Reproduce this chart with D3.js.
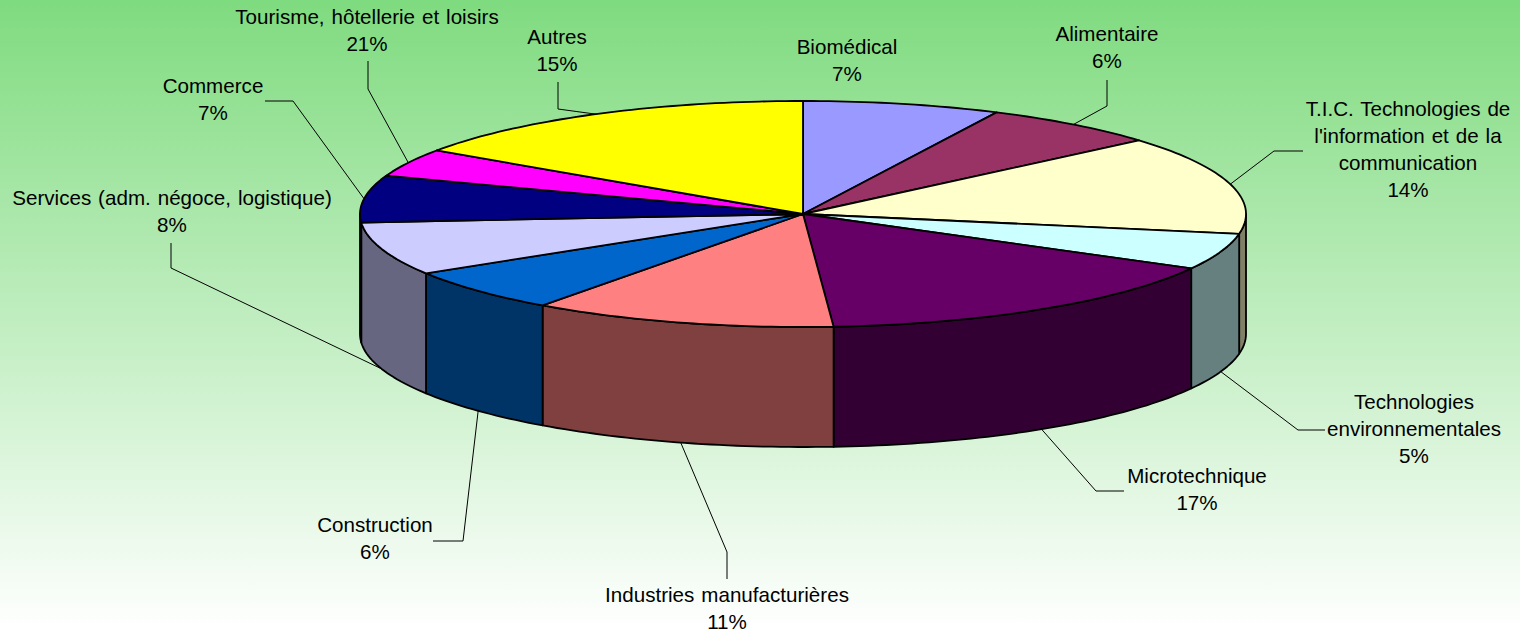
<!DOCTYPE html>
<html>
<head>
<meta charset="utf-8">
<script src="https://cdn.jsdelivr.net/npm/d3@7"></script>
<style>
    html, body { margin: 0; padding: 0; background: #fff; }
    svg { display: block; }
    text { font-family: "Liberation Sans", Arial, sans-serif; font-size: 20.6px; fill: #000; }
</style>
</head>
<body>
<div id="chart"></div>
<script>
// clockwise from 12 o'clock
const categories = [
    ["Biomédical"],
    ["Alimentaire"],
    ["T.I.C. Technologies de", "l'information et de la", "communication"],
    ["Technologies", "environnementales"],
    ["Microtechnique"],
    ["Industries manufacturières"],
    ["Construction"],
    ["Services (adm. négoce, logistique)"],
    ["Commerce"],
    ["Tourisme, hôtellerie et loisirs"],
    ["Autres"]
];
// printed labels, they do not all agree with the drawn slices
const percentLabels = ["7%", "6%", "14%", "5%", "17%", "11%", "6%", "8%", "7%", "21%", "15%"];
// slice sizes as measured on the drawing
const sliceShares = [7.2, 6.5, 14.1, 5.2, 15.9, 11.1, 6.2, 7.6, 6.7, 4.0, 15.5];
const topColors = ["#9999ff", "#993366", "#ffffcc", "#ccffff", "#660066", "#ff8080", "#0066cc", "#ccccff", "#000080", "#ff00ff", "#ffff00"];
const wallColors = ["#4d4d80", "#4d1a33", "#808066", "#668080", "#330033", "#804040", "#003366", "#666680", "#000040", "#800080", "#808000"];

// label centre + elbow of the leader line
const labelX = [847, 1107, 1408, 1414, 1197, 727, 375, 172, 213, 367, 557];
const labelY = [47, 34, 109, 402, 476, 595, 525, 198, 86, 17, 37];
const leaders = [
    null,
    [[1107, 106], [1107, 80]],
    [[1274, 151], [1303, 151]],
    [[1298, 430], [1325, 430]],
    [[1096, 491], [1124, 491]],
    [[727, 552], [727, 579]],
    [[463, 541], [433, 541]],
    [[171, 268], [171, 243]],
    [[293, 101], [265, 101]],
    [[368, 89], [368, 61]],
    [[558, 109], [558, 82]]
];

const width = 1520, height = 630;
const wallDepth = 120;
const lineHeight = 27;

const svg = d3.select("#chart").append("svg")
    .attr("width", width)
    .attr("height", height);

const grad = svg.append("defs").append("linearGradient")
    .attr("id", "bg")
    .attr("x1", 0).attr("y1", 0).attr("x2", 0).attr("y2", 1);
grad.append("stop").attr("offset", "0%").attr("stop-color", "#7fdb7f");
grad.append("stop").attr("offset", "100%").attr("stop-color", "#ffffff");

svg.append("rect")
    .attr("width", width)
    .attr("height", height)
    .attr("fill", "url(#bg)");

// the tilted disc is a unit circle squeezed through two scales
const xScale = d3.scaleLinear().domain([-1, 1]).range([360, 1246]);
const yScale = d3.scaleLinear().domain([-1, 1]).range([327, 101]);

const arcs = d3.pie().sort(null).value((d) => d)(sliceShares);

function rim(a, drop) {
    return [xScale(Math.sin(a)), yScale(Math.cos(a)) + (drop || 0)];
}

function rimPoints(a0, a1, drop) {
    const n = Math.max(2, Math.ceil((a1 - a0) / 0.02));
    return d3.range(n + 1).map((i) => rim(a0 + (a1 - a0) * i / n, drop));
}

const line = d3.line();

// outer walls, only the front half of the disc shows
const front = [Math.PI / 2, Math.PI * 3 / 2];
svg.append("g").selectAll("path")
    .data(arcs.filter((d) => d.endAngle > front[0] && d.startAngle < front[1]))
    .join("path")
    .attr("d", (d) => {
        const a0 = Math.max(d.startAngle, front[0]);
        const a1 = Math.min(d.endAngle, front[1]);
        return line(rimPoints(a0, a1, 0).concat(rimPoints(a0, a1, wallDepth).reverse())) + "Z";
    })
    .attr("fill", (d) => wallColors[d.index])
    .attr("stroke", "#000")
    .attr("stroke-width", 1.8)
    .attr("stroke-linejoin", "round");

// top faces
svg.append("g").selectAll("path")
    .data(arcs)
    .join("path")
    .attr("d", (d) => line([[xScale(0), yScale(0)]].concat(rimPoints(d.startAngle, d.endAngle, 0))) + "Z")
    .attr("fill", (d) => topColors[d.index])
    .attr("stroke", "#000")
    .attr("stroke-width", 1.8)
    .attr("stroke-linejoin", "round");

// leader lines start on the visible edge at the middle of each slice
svg.append("g").selectAll("path")
    .data(arcs.filter((d) => leaders[d.index]))
    .join("path")
    .attr("d", (d) => {
        const mid = (d.startAngle + d.endAngle) / 2;
        const onFront = mid > front[0] && mid < front[1];
        return line([rim(mid, onFront ? wallDepth : 0)].concat(leaders[d.index]));
    })
    .attr("fill", "none")
    .attr("stroke", "#000")
    .attr("stroke-width", 1);

const labels = svg.append("g").selectAll("text")
    .data(categories)
    .join("text")
    .attr("text-anchor", "middle")
    .style("word-spacing", "1.2px");

labels.selectAll("tspan")
    .data((d, i) => d.concat(percentLabels[i]).map((t, j) => ({ t: t, j: j, i: i })))
    .join("tspan")
    .attr("x", (d) => labelX[d.i])
    .attr("y", (d) => labelY[d.i] + 6.5 + d.j * lineHeight)
    .text((d) => d.t);
</script>
</body>
</html>
